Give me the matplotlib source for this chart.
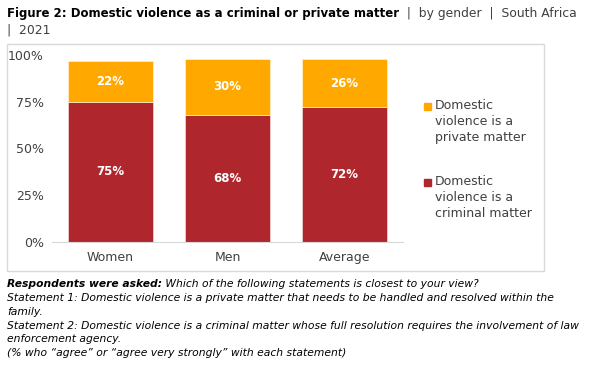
import matplotlib
matplotlib.use("Agg")
import matplotlib.pyplot as plt
from matplotlib.patches import Rectangle

categories = ["Women", "Men", "Average"]
criminal = [75, 68, 72]
private = [22, 30, 26]
series_names = ["Domestic\nviolence is a\nprivate matter", "Domestic\nviolence is a\ncriminal matter"]
yticks = [0, 25, 50, 75, 100]
ytick_labels = ["0%", "25%", "50%", "75%", "100%"]

RED = "#B0262D"
ORANGE = "#FFA800"
TXT = "#404040"
FONT = "DejaVu Sans"
plt.rcParams['font.family'] = [FONT]

W, H = 602, 367
fig = plt.figure(figsize=(W / 100, H / 100), dpi=100)
fig.patch.set_facecolor("white")

def fx(px):
    return px / W

def fy(py):
    return 1 - py / H

# chart border
fig.patches.append(Rectangle((fx(7), fy(271)), fx(544) - fx(7), fy(44) - fy(271),
                             transform=fig.transFigure, fill=False,
                             edgecolor="#D9D9D9", linewidth=1.0))

ax = fig.add_axes([fx(52), fy(241.7), fx(403) - fx(52), fy(55) - fy(241.7)])
x = list(range(len(categories)))
ax.bar(x, criminal, width=0.72, color=RED, edgecolor="#F3D9DA", linewidth=0.5)
ax.bar(x, private, width=0.72, bottom=criminal, color=ORANGE, edgecolor="#FFF0D0", linewidth=0.5)
for i in x:
    ax.text(i, criminal[i] / 2, f"{criminal[i]}%", ha="center", va="center",
            color="white", fontsize=8.5, fontweight="bold")
    ax.text(i, criminal[i] + private[i] / 2, f"{private[i]}%", ha="center", va="center",
            color="white", fontsize=8.5, fontweight="bold")
ax.set_xlim(-0.5, 2.5)
ax.set_ylim(0, 100)
ax.set_yticks(yticks)
ax.set_yticklabels(ytick_labels)
ax.set_xticks(x)
ax.set_xticklabels(categories)
for s in ["top", "right", "left"]:
    ax.spines[s].set_visible(False)
ax.spines["bottom"].set_color("#D9D9D9")
ax.tick_params(axis="both", length=0, labelsize=9, colors=TXT, pad=6)
ax.tick_params(axis="x", pad=7)

# legend
leg_items = [(ORANGE, series_names[0], 106), (RED, series_names[1], 182)]
for color, label, ytop in leg_items:
    fig.patches.append(Rectangle((fx(424), fy(ytop + 4)), fx(7), fy(0) - fy(7),
                                 transform=fig.transFigure, color=color))
    fig.text(fx(435), fy(ytop - 7), label, fontsize=9.0, color=TXT, va="top", ha="left",
             linespacing=1.28)

# title with mixed weights
renderer = fig.canvas.get_renderer()

def run(parts, px, py):
    cur = fx(px)
    for txt, size, kw in parts:
        t = fig.text(cur, fy(py), txt, fontsize=size, va="baseline", ha="left", **kw)
        bb = t.get_window_extent(renderer=renderer)
        cur = bb.x1 / W

run([("Figure 2: Domestic violence as a criminal or private matter", 8.45, dict(fontweight="bold", color="black")),
     ("  |  by gender  |  South Africa", 8.9, dict(color=TXT))], 7, 17)
run([("|  2021", 8.9, dict(color=TXT))], 7, 33)

FS = 7.75
run([("Respondents were asked:", FS, dict(fontweight="bold", style="italic", color="black")),
     (" Which of the following statements is closest to your view?", FS, dict(style="italic", color="black"))],
    7, 287)
foot = ["Statement 1: Domestic violence is a private matter that needs to be handled and resolved within the",
        "family.",
        "Statement 2: Domestic violence is a criminal matter whose full resolution requires the involvement of law",
        "enforcement agency.",
        "(% who \u201cagree\u201d or \u201cagree very strongly\u201d with each statement)"]
for k, line in enumerate(foot):
    fig.text(fx(7), fy(301 + 13.8 * k), line, fontsize=FS, style="italic", color="black",
             va="baseline", ha="left")

fig.savefig("out.png", dpi=100, facecolor="white")
